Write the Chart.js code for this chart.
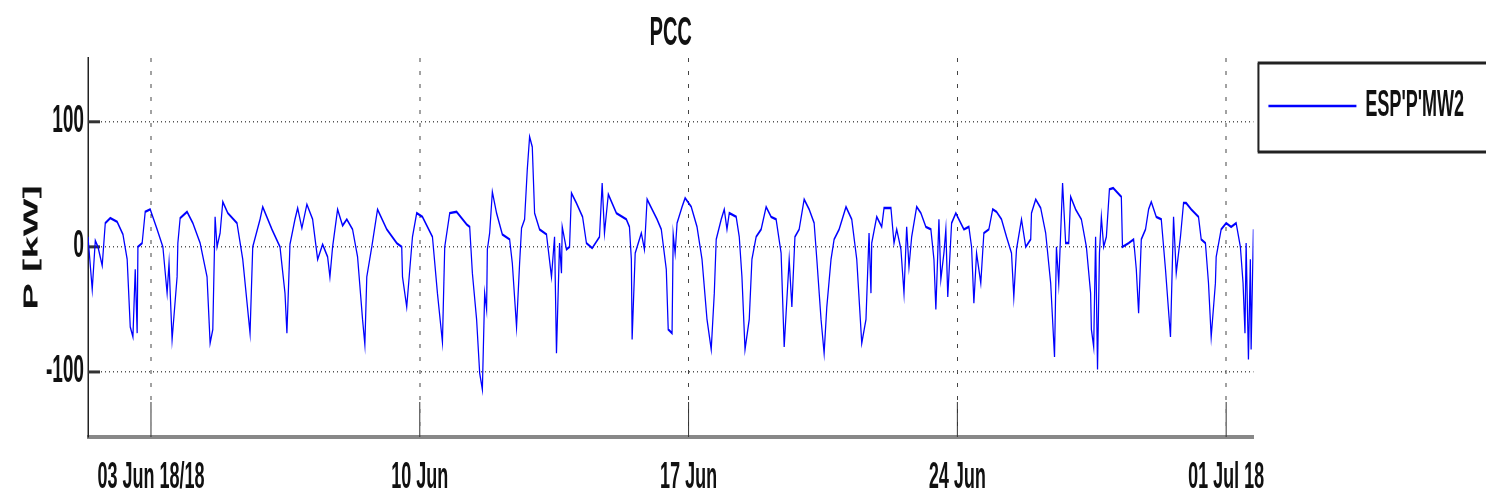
<!DOCTYPE html>
<html>
<head>
<meta charset="utf-8">
<script src="https://cdn.jsdelivr.net/npm/chart.js@4.4.0/dist/chart.umd.min.js"></script>
<style>
  html, body { margin: 0; padding: 0; background: #fff; overflow: hidden; }
  #pcc { display: block; }
</style>
</head>
<body>
<canvas id="pcc" width="2972" height="501" style="width:1486px;height:501px"></canvas>
<script>
// time in days since 01 Jun 2018 00:00, power in kW
const t = [
  0.36, 0.47, 0.55, 0.62, 0.73, 0.81, 0.94, 1.12, 1.27, 1.38, 1.46, 1.53, 1.59, 1.64, 1.66, 1.77, 1.85, 1.98,
  2.16, 2.31, 2.42, 2.47, 2.55, 2.68, 2.70, 2.76, 2.94, 3.09, 3.28, 3.46, 3.54, 3.61, 3.67, 3.72, 3.80, 3.87,
  4.00, 4.24, 4.39, 4.58, 4.65, 4.84, 4.91, 5.15, 5.36, 5.49, 5.54, 5.62, 5.75, 5.82, 5.93, 6.06, 6.21, 6.34,
  6.47, 6.60, 6.66, 6.73, 6.86, 6.99, 7.10, 7.25, 7.38, 7.51, 7.57, 7.62, 7.75, 7.90, 8.14, 8.40, 8.53, 8.55,
  8.66, 8.74, 8.81, 8.92, 9.07, 9.33, 9.46, 9.59, 9.65, 9.78, 9.96, 10.22, 10.30, 10.37, 10.48, 10.56, 10.63,
  10.69, 10.74, 10.76, 10.82, 10.89, 11.00, 11.15, 11.34, 11.41, 11.52, 11.60, 11.65, 11.73, 11.80, 11.86,
  11.93, 11.99, 12.12, 12.30, 12.43, 12.51, 12.56, 12.64, 12.69, 12.71, 12.82, 12.90, 12.95, 13.08, 13.24,
  13.34, 13.49, 13.68, 13.75, 13.81, 13.91, 14.12, 14.38, 14.46, 14.51, 14.53, 14.61, 14.72, 14.77, 14.85,
  14.92, 15.05, 15.18, 15.29, 15.42, 15.47, 15.57, 15.60, 15.65, 15.70, 15.83, 15.91, 16.07, 16.22, 16.35,
  16.48, 16.59, 16.67, 16.72, 16.85, 16.93, 17.00, 17.06, 17.24, 17.32, 17.39, 17.47, 17.58, 17.65, 17.76,
  17.89, 18.02, 18.15, 18.28, 18.41, 18.49, 18.54, 18.62, 18.69, 18.77, 18.88, 19.01, 19.14, 19.27, 19.34,
  19.45, 19.53, 19.60, 19.71, 19.79, 19.92, 20.10, 20.25, 20.38, 20.51, 20.62, 20.70, 20.75, 20.77, 20.90,
  21.03, 21.09, 21.27, 21.35, 21.42, 21.53, 21.61, 21.68, 21.74, 21.81, 21.94, 22.05, 22.18, 22.31, 22.39,
  22.44, 22.52, 22.57, 22.65, 22.70, 22.75, 22.85, 22.96, 23.04, 23.17, 23.30, 23.37, 23.43, 23.50, 23.61,
  23.69, 23.82, 23.92, 24.02, 24.15, 24.28, 24.41, 24.47, 24.54, 24.67, 24.78, 24.91, 24.93, 25.04, 25.17,
  25.30, 25.43, 25.53, 25.58, 25.64, 25.69, 25.74, 25.82, 25.90, 25.95, 26.08, 26.23, 26.36, 26.47, 26.49,
  26.55, 26.60, 26.65, 26.70, 26.75, 26.81, 26.88, 26.96, 27.06, 27.27, 27.30, 27.46, 27.59, 27.66, 27.72,
  27.79, 27.90, 27.98, 28.05, 28.18, 28.31, 28.42, 28.55, 28.63, 28.70, 28.81, 28.89, 28.96, 29.09, 29.28,
  29.35, 29.46, 29.54, 29.61, 29.72, 29.74, 29.87, 30.00, 30.13, 30.26, 30.37, 30.44, 30.49, 30.52, 30.58,
  30.63, 30.65, 30.71
];
const p = [
  8, -34, 5, 0, -15, 19, 23, 20, 10, -10, -64, -72, -18, -69, 0, 3, 28, 30,
  14, 0, -37, -13, -74, -24, 3, 23, 28, 19, 3, -24, -77, -66, 24, 0, 11, 36,
  27, 19, -10, -69, 0, 22, 32, 14, 0, -37, -69, 2, 22, 31, 15, 34, 22, -10,
  2, -8, -24, 0, 30, 17, 22, 14, -8, -58, -78, -24, 0, 30, 14, 3, 0, -24,
  -48, -18, 8, 27, 24, 8, -37, -76, 0, 27, 28, 18, 16, -21, -58, -101, -114,
  -37, -50, -2, 11, 44, 27, 10, 6, -13, -64, -13, 15, 22, 62, 88,
  80, 27, 14, 10, -24, 8, -85, 3, -21, 16, -2, 0, 43, 35, 24,
  3, -1, 8, 51, 11, 42, 27, 22, 16, -10, -74, -5, 6, 11, -2,
  38, 30, 22, 14, -18, -66, -69, 10, -5, 19, 32, 39, 32, 16, -10,
  -58, -82, -37, 6, 22, 30, 14, 27, 24, 8, -24, -82, -58, -10, 8,
  14, 32, 24, 22, -5, -80, -53, -10, -48, 8, 14, 38, 30, 19, -10,
  -58, -85, -48, -10, 6, 14, 32, 22, -10, -77, -58, 11, -37, 3, 24,
  16, 31, 31, 3, 14, -2, -37, 16, -16, 8, 32, 27, 16, 14, -10,
  -50, 22, -26, -5, 14, -40, 19, 27, 22, 14, 16, 0, -45, -5, -29,
  11, 14, 30, 28, 22, 8, -5, -40, -2, 22, 0, 6, 27, 38, 31,
  11, -29, -88, 0, -29, 11, 51, 3, 3, 40, 30, 22, 0, -37, -66,
  -80, 8, -98, -5, 24, 0, 8, 46, 47, 40, 0, 3, 6, -18, -53,
  6, 14, 30, 36, 24, 22, -18, -72, 24, -21, 8, 35, 35, 30, 24,
  6, 3, -29, -72, -29, -8, 14, 19, 16, 19, 0, -29, -69, 3, -90,
  -10, -82, 14
];
const tickDays = [2, 9, 16, 23, 30];
const tickLabels = ['03 Jun 18/18', '10 Jun', '17 Jun', '24 Jun', '01 Jul 18'];
const yTicks = [-100, 0, 100];
const seriesName = "ESP'P'MW2";

// the figure is squeezed sideways: draw on a canvas twice as wide, shown at 1486px
const F = "'Liberation Sans', Arial, sans-serif";

const matlabBits = {
  id: 'matlabBits',
  beforeDatasetsDraw(chart) {
    const { ctx, chartArea: a, scales: { x, y } } = chart;
    ctx.save();
    ctx.strokeStyle = '#333';
    ctx.lineWidth = 3;
    yTicks.forEach(v => {
      const py = y.getPixelForValue(v);
      ctx.beginPath(); ctx.moveTo(a.left, py); ctx.lineTo(a.left + 24, py); ctx.stroke();
    });
    ctx.lineWidth = 2;
    tickDays.forEach(v => {
      const px = x.getPixelForValue(v);
      ctx.beginPath(); ctx.moveTo(px, a.bottom); ctx.lineTo(px, a.bottom - 35); ctx.stroke();
    });
    ctx.restore();
  },
  afterDraw(chart) {
    const lg = chart.legend, ctx = chart.ctx;
    const bx = lg.left + 10;
    ctx.save();
    ctx.strokeStyle = '#222';
    ctx.lineWidth = 3;
    ctx.strokeRect(bx, 63, 1000, 89);
    ctx.lineWidth = 4;
    ctx.beginPath(); ctx.moveTo(bx, 63); ctx.lineTo(bx, 152); ctx.stroke();
    ctx.restore();
  }
};

const cv = document.getElementById('pcc');
new Chart(cv, {
  type: 'line',
  data: {
    datasets: [{
      label: seriesName,
      data: t.map((d, i) => ({ x: d, y: p[i] })),
      borderColor: '#0000ff',
      backgroundColor: '#0000ff',
      borderWidth: 2.5,
      pointRadius: 0,
      tension: 0,
      fill: false
    }]
  },
  options: {
    responsive: false,
    devicePixelRatio: 1,
    animation: false,
    layout: { padding: { left: 0, right: 34, top: 0, bottom: 0 } },
    plugins: {
      title: {
        display: true, text: 'PCC', fullSize: false, color: '#111',
        font: { size: 40, weight: 'bold', family: F },
        padding: { top: 10, bottom: 0 }
      },
      legend: {
        position: 'right', align: 'start', fullSize: false,
        labels: {
          usePointStyle: true, pointStyle: 'line', pointStyleWidth: 176,
          padding: 30, color: '#111', font: { size: 36, weight: 'bold', family: F }
        }
      },
      tooltip: { enabled: false }
    },
    scales: {
      x: {
        type: 'linear', min: 0.36, max: 30.71,
        afterBuildTicks: s => { s.ticks = tickDays.map(v => ({ value: v })); },
        afterFit: s => { s.height = 64; },
        ticks: {
          padding: 19, maxRotation: 0, autoSkip: false, color: '#111',
          font: { size: 36, weight: 'bold', family: F },
          callback: v => tickLabels[tickDays.indexOf(v)]
        },
        grid: { color: '#444', lineWidth: 2, drawTicks: false },
        border: { color: '#888', width: 4, dash: [4, 9] }
      },
      y: {
        min: -152, max: 151,
        afterBuildTicks: s => { s.ticks = yTicks.map(v => ({ value: v })); },
        afterFit: s => { s.width = 176; },
        ticks: {
          padding: 8, color: '#111', font: { size: 38, weight: 'bold', family: F },
          callback: v => String(v)
        },
        grid: { color: '#555', lineWidth: 1.5, drawTicks: false },
        border: { color: '#222', width: 3, dash: [2, 6] },
        title: {
          display: true, text: 'P [kW]', color: '#111',
          font: { size: 40, weight: 'bold', family: F },
          padding: { top: 40, bottom: 0 }
        }
      }
    }
  },
  plugins: [matlabBits]
});
cv.style.width = '1486px';
cv.style.height = '501px';
</script>
</body>
</html>
